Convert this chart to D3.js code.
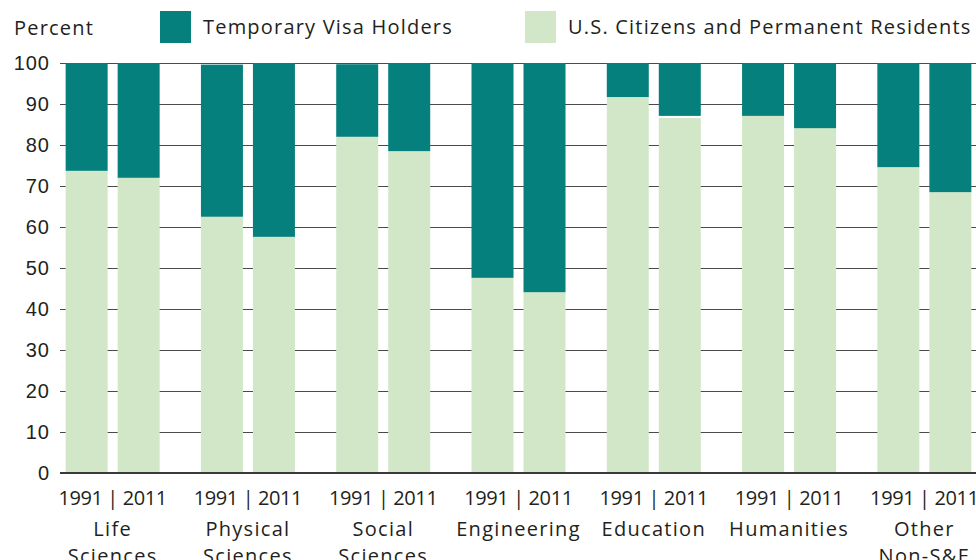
<!DOCTYPE html>
<html>
<head>
<meta charset="utf-8">
<script src="https://cdn.jsdelivr.net/npm/d3@7"></script>
<style>
  body { margin: 0; background: #fff; }
  svg { display: block; font-family: "Open Sans", sans-serif; }
</style>
</head>
<body>
<div id="chart"></div>
<script>
// categories and series values (percent)
const categories = ["Life Sciences", "Physical Sciences", "Social Sciences", "Engineering",
                    "Education", "Humanities", "Other Non-S&E"];
const labelLines = [["Life", "Sciences"], ["Physical", "Sciences"], ["Social", "Sciences"],
                    ["Engineering"], ["Education"], ["Humanities"], ["Other", "Non-S&E"]];
const years = ["1991", "2011"];
const citizens1991 = [73.7, 62.5, 82.0, 47.6, 91.7, 87.1, 74.6];
const citizens2011 = [72.0, 57.6, 78.5, 44.1, 86.6, 84.1, 68.5];
const unknown1991  = [0, 0, 0, 0, 0, 0, 0];
const unknown2011  = [0, 0, 0, 0, 0.5, 0, 0];
const visa1991     = [26.3, 37.1, 17.7, 52.4, 8.3, 12.9, 25.4];
const visa2011     = [28.0, 42.4, 21.5, 55.9, 12.9, 15.9, 31.5];
const yTicks = [0, 10, 20, 30, 40, 50, 60, 70, 80, 90, 100];

const colors = {citizens: "#d1e7c7", visa: "#05807d"};

let margin = {top: 63, left: 60, right: 0, bottom: 87},
    width = 976,
    height = 560;

let svg = d3.select("#chart").append("svg")
    .attr("width", width)
    .attr("height", height);

// build table rows
let rows = [];
categories.forEach((c, i) => {
    rows.push({cat: c, year: "1991", citizens: citizens1991[i], unknown: unknown1991[i], visa: visa1991[i]});
    rows.push({cat: c, year: "2011", citizens: citizens2011[i], unknown: unknown2011[i], visa: visa2011[i]});
});

let y = d3.scaleLinear().domain([0, 100]).range([height - margin.bottom, margin.top]);

let x0 = d3.scaleBand().domain(categories).range([45, 992]);
let bw = x0.bandwidth();
let x1 = d3.scaleBand().domain(years)
    .range([bw / 2 - 47, bw / 2 + 47])
    .paddingInner(10 / 52);

// gridlines
let yAxis = d3.axisLeft(y).tickValues(yTicks).tickSize(-(width - margin.left)).tickFormat(d => d);
let gy = svg.append("g")
    .attr("transform", "translate(" + margin.left + ",0)")
    .call(yAxis);
gy.select(".domain").remove();
gy.selectAll(".tick line")
    .attr("stroke", "#4a4a4a")
    .attr("stroke-width", 1);
gy.selectAll(".tick text")
    .attr("x", -10)
    .attr("fill", "#231f20")
    .style("font-size", "20px")
    .style("letter-spacing", "1px");

// stacked bars
let stack = d3.stack().keys(["citizens", "unknown", "visa"]);
let series = stack(rows);

svg.append("g").selectAll("g")
    .data(series.filter(s => s.key !== "unknown"))
    .join("g")
    .attr("fill", s => colors[s.key])
    .selectAll("rect")
    .data(s => s)
    .join("rect")
    .attr("x", d => x0(d.data.cat) + x1(d.data.year))
    .attr("width", x1.bandwidth())
    .attr("y", d => y(d[1]))
    .attr("height", d => y(d[0]) - y(d[1]));

// baseline at zero
svg.append("line")
    .attr("x1", margin.left).attr("x2", width)
    .attr("y1", y(0)).attr("y2", y(0))
    .attr("stroke", "#3a3a3a")
    .attr("stroke-width", 2);

// x labels
let gx = svg.append("g");
categories.forEach((c, i) => {
    let cx = x0(c) + bw / 2;
    gx.append("text")
        .attr("x", cx).attr("y", 505)
        .attr("text-anchor", "middle")
        .attr("fill", "#231f20")
        .style("font-size", "20px")
        .style("letter-spacing", "-0.4px")
        .text(years[0] + " | " + years[1]);
    labelLines[i].forEach((l, j) => {
        gx.append("text")
            .attr("x", cx).attr("y", 536 + j * 27)
            .attr("text-anchor", "middle")
            .attr("fill", "#231f20")
            .style("font-size", "20px")
            .style("letter-spacing", "1.3px")
            .text(l);
    });
});

// title & legend
svg.append("text")
    .attr("x", 14).attr("y", 35)
    .attr("fill", "#231f20")
    .style("font-size", "20px")
    .style("letter-spacing", "1.2px")
    .text("Percent");

let legend = [{label: "Temporary Visa Holders", key: "visa", x: 160},
              {label: "U.S. Citizens and Permanent Residents", key: "citizens", x: 525}];
legend.forEach(l => {
    svg.append("rect")
        .attr("x", l.x).attr("y", 11)
        .attr("width", 31).attr("height", 32)
        .attr("fill", colors[l.key]);
    svg.append("text")
        .attr("x", l.x + 43).attr("y", 34)
        .attr("fill", "#231f20")
        .style("font-size", "20px")
        .style("letter-spacing", "1.2px")
        .text(l.label);
});
</script>
</body>
</html>
